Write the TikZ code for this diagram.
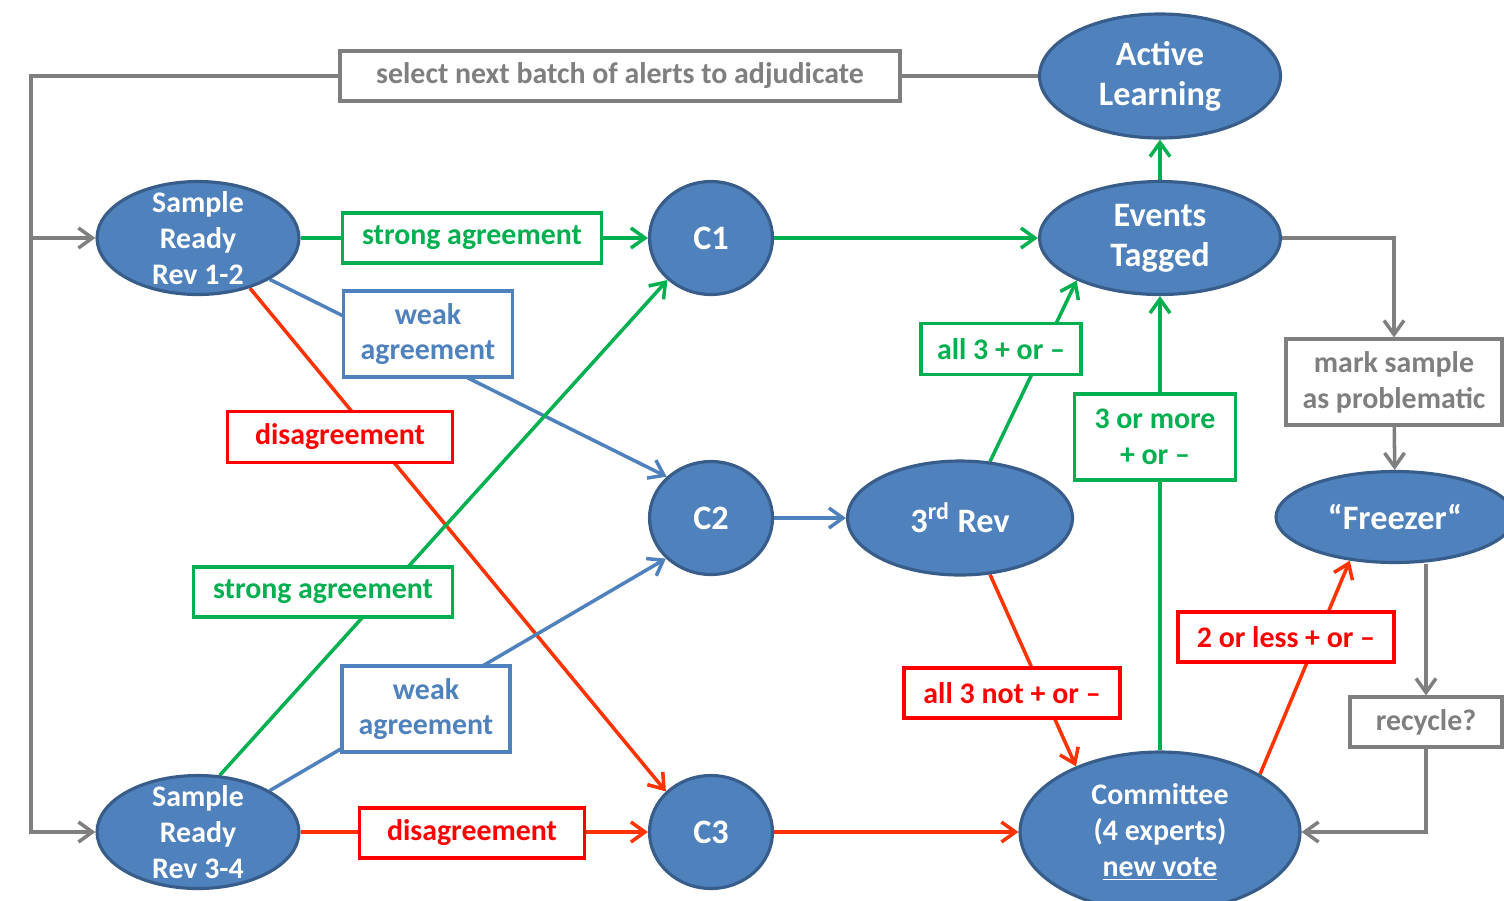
\documentclass[tikz,border=0pt]{standalone}
\usepackage{fontspec}
\setmainfont{Carlito}
\usetikzlibrary{positioning,arrows.meta,shapes.geometric,backgrounds}

\definecolor{nodeblue}{HTML}{4F81BD}
\definecolor{nodeedge}{HTML}{385D8A}
\definecolor{okgreen}{HTML}{00B050}
\definecolor{badred}{HTML}{FF0000}
\definecolor{lineorange}{HTML}{FF3300}
\definecolor{midgray}{HTML}{7F7F7F}

\begin{document}
\begin{tikzpicture}[
    x=0.02cm, y=-0.02cm,
    every node/.style={font=\bfseries\fontsize{17}{20.4}\selectfont},
    evnode/.style={ellipse, draw=nodeedge, fill=nodeblue, line width=1.8pt, inner sep=0pt},
    evtext/.style={text=white, align=center},
    bigtext/.style={evtext, font=\bfseries\fontsize{19.5}{22.7}\selectfont},
    boxnode/.style={draw, fill=white, line width=1.8pt, align=center, inner sep=2pt},
    gbox/.style={boxnode, draw=okgreen, text=okgreen},
    bbox/.style={boxnode, draw=nodeblue, text=nodeblue},
    rbox/.style={boxnode, draw=badred, text=badred},
    graybox/.style={boxnode, draw=midgray, text=midgray},
    conn/.style={line width=2pt},
    arrow/.style={conn, -{Straight Barb[length=2.8mm, width=4mm]}},
    garrow/.style={arrow, okgreen},
    barrow/.style={arrow, nodeblue},
    rarrow/.style={arrow, lineorange},
    grayarrow/.style={arrow, midgray},
    grayline/.style={conn, midgray}
]
\useasboundingbox (0,0) rectangle (1504,900);

% Ellipses
\node[evnode, minimum width=4.82cm, minimum height=2.48cm, label={[bigtext]center:{Active\\Learning}}] (al) at (1160,76) {};
\node[evnode, minimum width=4.82cm, minimum height=2.26cm, label={[bigtext]center:{Events\\Tagged}}] (et) at (1160,238) {};
\node[evnode, minimum width=4.04cm, minimum height=2.26cm, label={[evtext]center:{Sample\\Ready\\Rev 1-2}}] (s12) at (198,238) {};
\node[evnode, minimum width=4.04cm, minimum height=2.26cm, label={[evtext]center:{Sample\\Ready\\Rev 3-4}}] (s34) at (198,832) {};
\node[evnode, minimum width=2.46cm, minimum height=2.26cm, label={[bigtext]center:C1}] (c1) at (711,238) {};
\node[evnode, minimum width=2.46cm, minimum height=2.26cm, label={[bigtext]center:C2}] (c2) at (711,518) {};
\node[evnode, minimum width=2.46cm, minimum height=2.26cm, label={[bigtext]center:C3}] (c3) at (711,832) {};
\node[evnode, minimum width=4.5cm, minimum height=2.28cm, label={[bigtext]center:{3\textsuperscript{rd} Rev}}] (rev) at (960,518) {};
\node[evnode, minimum width=4.76cm, minimum height=1.82cm, label={[bigtext]center:{“Freezer“}}] (frz) at (1395,517) {};
\node[evnode, minimum width=5.6cm, minimum height=3.2cm, label={[evtext]center:{Committee\\(4 experts)\\\underline{new vote}}}] (cmt) at (1160,832) {};

% Label boxes
\node[graybox, minimum width=11.2cm, minimum height=1cm] (select) at (620,76) {select next batch of alerts to adjudicate};
\node[gbox, minimum width=5.18cm, minimum height=1cm] (strong1) at (472,238) {strong agreement};
\node[bbox, minimum width=3.38cm, minimum height=1.72cm] (weak1) at (428,334) {weak\\agreement};
\node[rbox, minimum width=4.5cm, minimum height=1.02cm] (dis1) at (340,437) {disagreement};
\node[gbox, minimum width=5.18cm, minimum height=1cm] (strong2) at (323,592) {strong agreement};
\node[bbox, minimum width=3.36cm, minimum height=1.72cm] (weak2) at (426,709) {weak\\agreement};
\node[rbox, minimum width=4.5cm, minimum height=1cm] (dis2) at (472,833) {disagreement};
\node[gbox, minimum width=3.2cm, minimum height=1.02cm] (all3) at (1001,349) {all 3 + or –};
\node[gbox, minimum width=3.22cm, minimum height=1.72cm] (ormore) at (1155,437) {3 or more\\+ or –};
\node[graybox, minimum width=4.32cm, minimum height=1.72cm] (mark) at (1394,382) {mark sample\\as problematic};
\node[rbox, minimum width=4.32cm, minimum height=1cm] (orless) at (1286,637) {2 or less + or –};
\node[rbox, minimum width=4.32cm, minimum height=1cm] (all3not) at (1012,693) {all 3 not + or –};
\node[graybox, minimum width=3.04cm, minimum height=1cm] (recycle) at (1426,722) {recycle?};

\coordinate (lcorner) at (31,76);

% Connectors
\begin{scope}[on background layer]
    \draw[garrow] (s12) -- (c1);
    \draw[barrow] (s12.-30) -- (c2.137);
    \draw[rarrow] (s12.-44) -- (c3.138);
    \draw[garrow] (s34.69) -- (c1.-136);
    \draw[barrow] (s34.30) -- (c2.-138);
    \draw[rarrow] (s34) -- (c3);
    \draw[garrow] (c1) -- (et);
    \draw[barrow] (c2) -- (rev);
    \draw[rarrow] (c3) -- (cmt);
    \draw[garrow] (et) -- (al);
    \draw[garrow] (rev.62) -- (et.-153);
    \draw[garrow] (cmt) -- (et);
    \draw[rarrow] (rev.-62) -- (cmt.142);
    \draw[rarrow] (cmt.30) -- (frz.-136);
    % grey loop
    \draw[grayline] (al) -- (select);
    \draw[grayarrow] (select) -- (lcorner) |- (s12);
    \draw[grayarrow] (lcorner) |- (s34);
    \draw[grayarrow] (et) -| (mark);
    \draw[grayarrow] (mark) -- (frz);
    \draw[grayarrow] (frz.south -| recycle.north) -- (recycle);
    \draw[grayarrow] (recycle) |- (cmt);
\end{scope}

\end{tikzpicture}
\end{document}
